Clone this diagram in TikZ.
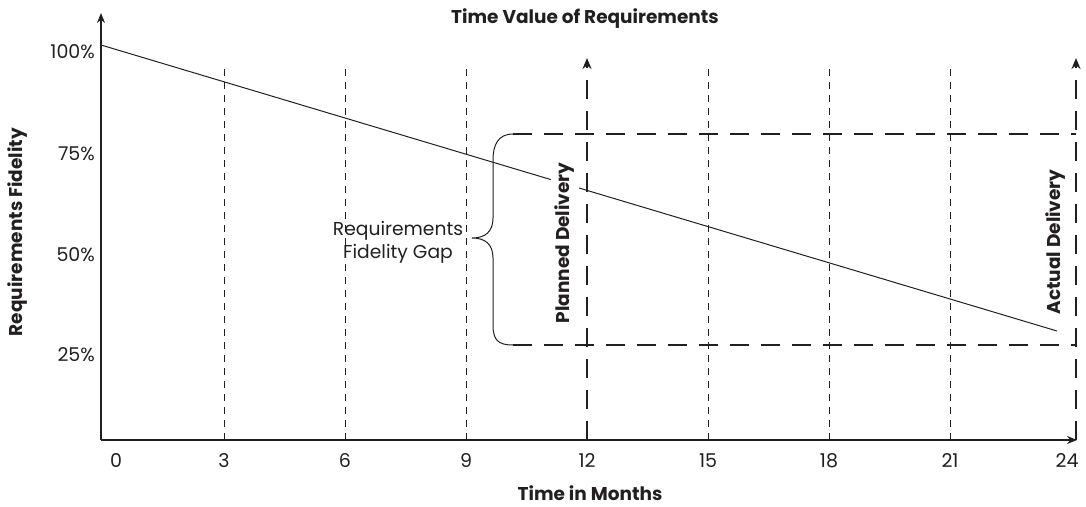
\documentclass[tikz,border=0pt]{standalone}
\usepackage{fontspec}
\setmainfont{Poppins}
\usetikzlibrary{arrows.meta}
\definecolor{ink}{HTML}{231F20}
\begin{document}
\begin{tikzpicture}[x=1pt,y=-1pt,
  axis/.style={ink,line width=1.3pt,-{Stealth[length=10pt,width=8pt]}},
  grid/.style={ink,line width=1pt,dash pattern=on 7pt off 6pt},
  delivery/.style={ink,line width=2.6pt,dash pattern=on 19pt off 12pt},
  deliveryarrow/.style={delivery,-{Stealth[length=11pt,width=9pt]}},
  trend/.style={ink,line width=1pt},
  tick/.style={ink,font=\fontsize{19}{22}\selectfont,inner sep=0pt},
  boldlbl/.style={ink,font=\bfseries\fontsize{18.5}{20}\selectfont,inner sep=0pt},
]
\useasboundingbox (0,0) rectangle (1086,506);

% axes
\coordinate (O) at (101,440);
\coordinate (ytop) at (101,13);
\coordinate (xend) at (1077,440);
\draw[axis] (O) -- (ytop);
\draw[axis] (O) -- (xend);

% thin dashed month markers
\foreach \m/\x in {3/224,6/345,9/466,15/708,18/829,21/950}{
  \coordinate (g\m b) at (\x,440);
  \coordinate (g\m t) at (\x,65);
  \draw[grid] (g\m b) -- (g\m t);
}

% planned and actual delivery lines
\coordinate (pb) at (587,440); \coordinate (pt) at (587,58);
\coordinate (ab) at (1076,440); \coordinate (at) at (1076,58);
\draw[deliveryarrow] (pb) -- (pt);
\draw[deliveryarrow] (ab) -- (at);

% fidelity gap band
\coordinate (bandTL) at (513,134); \coordinate (bandTR) at (1076,134);
\coordinate (bandBL) at (513,345); \coordinate (bandBR) at (1076,345);
\draw[delivery] (bandTL) -- (bandTR);
\draw[delivery] (bandBL) -- (bandBR);

% brace
\coordinate (tip) at (472,238);
\draw[trend] (bandTL) .. controls (498,134) and (493,145) .. (493,160)
  -- (493,218) .. controls (493,232) and (485,238) .. (tip)
  .. controls (485,238) and (493,244) .. (493,258)
  -- (493,325) .. controls (493,340) and (498,345) .. (bandBL);

% requirement fidelity decay
\coordinate (s0) at (101,45);
\coordinate (s1) at (1057,331);
\draw[trend] (s0) -- (s1);

% labels
\node[boldlbl,rotate=90,fill=white,inner sep=4pt] (planned) at (565,243) {Planned Delivery};
\node[boldlbl,rotate=90] (actual) at (1056,242) {Actual Delivery};
\node[tick,align=center,font=\fontsize{18.7}{23}\selectfont] (gap) at (398,242) {Requirements\\Fidelity Gap};

\node[boldlbl] (title) at (585,19) {Time Value of Requirements};
\node[boldlbl] (xlabel) at (590,493) {Time in Months};
\node[boldlbl] (ylabel) at (18,232) [rotate=90] {Requirements Fidelity};

\foreach \p/\y in {100/52,75/154,50/255,25/355}{
  \node[tick,anchor=east] (p\p) at (95,\y) {\p\%};
}
\foreach \m/\x in {0/116,3/224,6/345,9/466,12/587,15/708,18/829,21/950,24/1067}{
  \node[tick] (t\m) at (\x,461) {\m};
}
\end{tikzpicture}
\end{document}
